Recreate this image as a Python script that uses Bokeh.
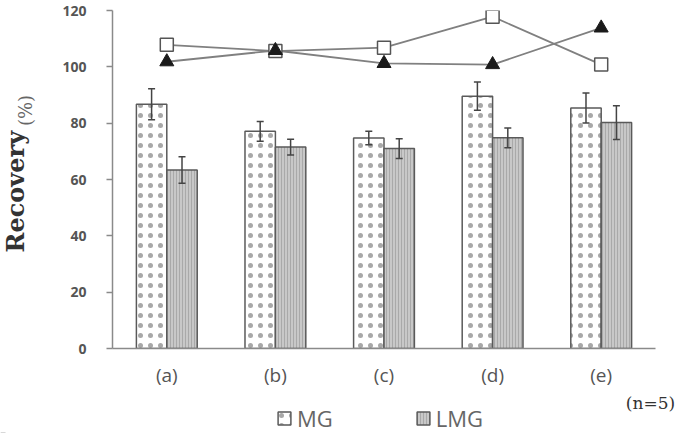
import numpy as np
from bokeh.plotting import figure
from bokeh.layouts import row, column
from bokeh.models import (ColumnDataSource, Range1d, FixedTicker, Whisker, TeeHead,
                          Label, Legend, LegendItem)
from bokeh.embed import file_html
from bokeh.resources import INLINE

# ---- data ----
categories = ["(a)", "(b)", "(c)", "(d)", "(e)"]
mg_mean = [86.7, 77.1, 74.7, 89.6, 85.4]
mg_err = [5.5, 3.5, 2.4, 5.0, 5.3]
lmg_mean = [63.4, 71.5, 71.0, 74.8, 80.2]
lmg_err = [4.7, 2.8, 3.5, 3.5, 6.0]
line_square = [107.8, 105.6, 106.8, 117.8, 100.8]
line_triangle = [101.8, 105.8, 101.2, 100.8, 113.8]
y_ticks = [0, 20, 40, 60, 80, 100, 120]
series_names = ["MG", "LMG"]

# ---- styles ----
MG_STYLE = dict(fill_color="white", line_color="#5a5a5a", line_width=1.5,
                hatch_pattern="dot", hatch_scale=10, hatch_color="#a8a8a8", hatch_weight=0.8)
LMG_STYLE = dict(fill_color="#c8c8c8", line_color="#5a5a5a", line_width=1.5,
                 hatch_pattern="vertical_line", hatch_scale=3, hatch_color="#a9a9a9", hatch_weight=1)
BORDER_TOP, BORDER_BOTTOM = 10, 42

# ---- derived table ----
n = len(categories)
bar_w = 0.28
xc = [i + 0.5 for i in range(n)]
src = ColumnDataSource(dict(
    x=xc,
    x_mg=[v - bar_w / 2 for v in xc],
    x_lmg=[v + bar_w / 2 for v in xc],
    mg=mg_mean, lmg=lmg_mean,
    mg_up=[m + e for m, e in zip(mg_mean, mg_err)],
    mg_lo=[m - e for m, e in zip(mg_mean, mg_err)],
    lmg_up=[m + e for m, e in zip(lmg_mean, lmg_err)],
    lmg_lo=[m - e for m, e in zip(lmg_mean, lmg_err)],
    sq=line_square, tri=line_triangle,
))

# ---- main chart ----
p = figure(width=641, height=390, x_range=Range1d(0, n), y_range=Range1d(0, 120),
           output_backend="svg", toolbar_location=None,
           min_border_left=67, min_border_right=31,
           min_border_top=BORDER_TOP, min_border_bottom=BORDER_BOTTOM)
p.xgrid.visible = False
p.ygrid.visible = False
p.outline_line_color = None

p.yaxis.ticker = FixedTicker(ticks=y_ticks)
p.yaxis.minor_tick_line_color = None
p.yaxis.major_tick_out = 6
p.yaxis.major_tick_in = 0
p.yaxis.axis_line_color = "#8a8a8a"
p.yaxis.axis_line_width = 1.5
p.yaxis.major_tick_line_color = "#8a8a8a"
p.yaxis.major_tick_line_width = 1.5
p.yaxis.major_label_text_font = "Open Sans"
p.yaxis.major_label_text_font_style = "bold"
p.yaxis.major_label_text_font_size = "14px"
p.yaxis.major_label_text_color = "#555555"
p.yaxis.major_label_standoff = 20

p.xaxis.ticker = FixedTicker(ticks=xc)
p.xaxis.major_label_overrides = {v: c for v, c in zip(xc, categories)}
p.xaxis.minor_tick_line_color = None
p.xaxis.major_tick_line_color = None
p.xaxis.axis_line_color = "#8a8a8a"
p.xaxis.axis_line_width = 1.5
p.xaxis.major_label_text_font = "Open Sans"
p.xaxis.major_label_text_font_size = "19px"
p.xaxis.major_label_text_color = "#555555"
p.xaxis.major_label_standoff = 7

p.vbar(x="x_mg", top="mg", bottom=0, width=bar_w, source=src, **MG_STYLE)
p.vbar(x="x_lmg", top="lmg", bottom=0, width=bar_w, source=src, **LMG_STYLE)

for base, up, lo in (("x_mg", "mg_up", "mg_lo"), ("x_lmg", "lmg_up", "lmg_lo")):
    p.add_layout(Whisker(source=src, base=base, upper=up, lower=lo, dimension="height",
                         level="overlay", line_color="#444444", line_width=1.5,
                         upper_head=TeeHead(size=7, line_color="#444444", line_width=1.5),
                         lower_head=TeeHead(size=7, line_color="#444444", line_width=1.5)))

p.line(x="x", y="sq", source=src, line_color="#808080", line_width=1.8)
p.line(x="x", y="tri", source=src, line_color="#808080", line_width=1.8)
p.scatter(x="x", y="sq", source=src, marker="square", size=13,
          fill_color="white", line_color="#555555", line_width=1.5)
p.scatter(x="x", y="tri", source=src, marker="triangle", size=14,
          fill_color="#1a1a1a", line_color="#1a1a1a", line_width=1)

# ---- y-axis title panel (data units = page pixels) ----
t = figure(width=45, height=390, x_range=Range1d(0, 45), y_range=Range1d(348, BORDER_TOP),
           output_backend="svg", toolbar_location=None,
           min_border_left=0, min_border_right=0,
           min_border_top=BORDER_TOP, min_border_bottom=BORDER_BOTTOM,
           x_axis_location=None, y_axis_location=None)
t.grid.visible = False
t.outline_line_color = None
t.add_layout(Label(x=15, y=252, text="Recovery", angle=np.pi / 2,
                   text_align="left", text_baseline="middle",
                   text_font="DejaVu Serif", text_font_style="bold",
                   text_font_size="24px", text_color="#333333"))
t.add_layout(Label(x=25, y=110, text="(%)", angle=np.pi / 2,
                   text_align="center", text_baseline="middle",
                   text_font="DejaVu Serif", text_font_size="18px",
                   text_color="#666666"))

# ---- legend panel (proxy bars sit below the visible range) ----
lg = figure(width=686, height=43, x_range=Range1d(0, 686), y_range=Range1d(1000, 1043),
            output_backend="svg", toolbar_location=None, min_border=0,
            x_axis_location=None, y_axis_location=None)
lg.grid.visible = False
lg.outline_line_color = None
d_mg = lg.vbar(x="x_mg", top="mg", bottom=0, width=bar_w, source=src, **MG_STYLE)
d_lmg = lg.vbar(x="x_lmg", top="lmg", bottom=0, width=bar_w, source=src, **LMG_STYLE)
legend = Legend(items=[LegendItem(label=series_names[0], renderers=[d_mg]),
                       LegendItem(label=series_names[1], renderers=[d_lmg])],
                orientation="horizontal", location=(276, 0), spacing=82,
                glyph_width=16, glyph_height=16, label_standoff=5,
                label_text_font="Open Sans", label_text_font_size="22px",
                label_text_color="#666666", border_line_color=None,
                background_fill_alpha=0, padding=0, margin=0)
lg.add_layout(legend)
lg.add_layout(Label(x=650, y=1031, text="(n=5)", text_align="center",
                    text_baseline="middle", text_font="DejaVu Serif",
                    text_font_size="17px", text_color="#333333"))

layout = column(row(t, p), lg)
open("out.html", "w").write(file_html(layout, INLINE))
